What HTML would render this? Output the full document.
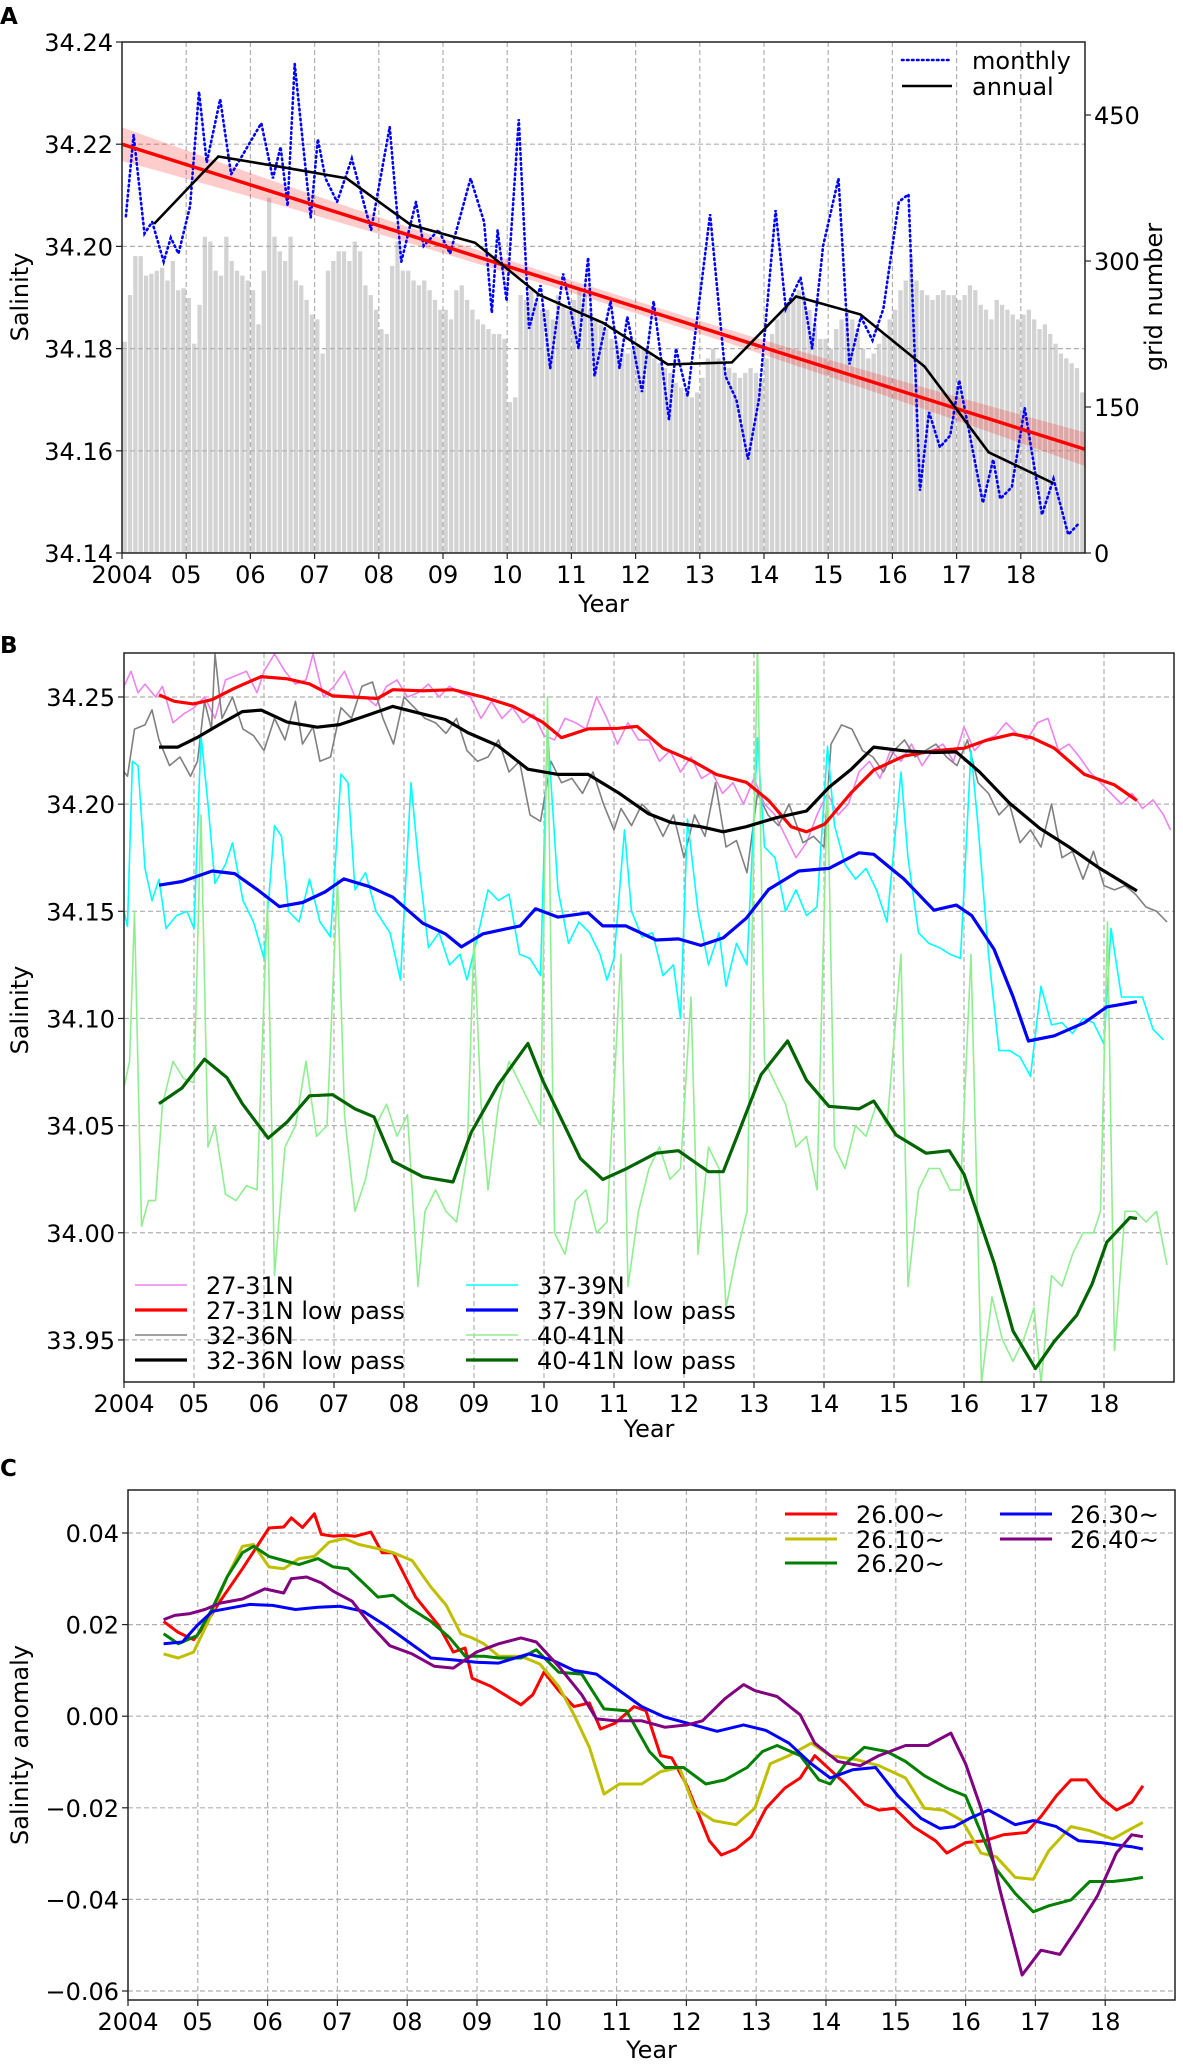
<!DOCTYPE html>
<html><head><meta charset="utf-8"><style>
html,body{margin:0;padding:0;background:#fff;}
svg{display:block;font-family:"DejaVu Sans","Liberation Sans",sans-serif;}
</style></head><body>
<svg id="fig" width="1183" height="2069" viewBox="0 0 1183 2069" xmlns="http://www.w3.org/2000/svg">
<defs>
<clipPath id="clipA"><rect x="122" y="42" width="963" height="511"/></clipPath>
<clipPath id="clipB"><rect x="124" y="653" width="1050" height="729"/></clipPath>
<clipPath id="clipC"><rect x="128" y="1490" width="1047" height="510"/></clipPath>
</defs>
<text x="0" y="24" font-size="23" font-weight="bold">A</text>
<text x="0" y="653" font-size="23" font-weight="bold">B</text>
<text x="0" y="1476" font-size="23" font-weight="bold">C</text>
<g id="gA"></g>
<g id="gB"></g>
<g id="gC"></g>
</svg>
<script>
// ---------- Panel A data ----------
const gridYears = [2004,2005,2006,2007,2008,2009,2010,2011,2012,2013,2014,2015,2016,2017,2018];
const yearLabels = ["2004","05","06","07","08","09","10","11","12","13","14","15","16","17","18"];
const aSalTicks = [34.14,34.16,34.18,34.20,34.22,34.24];
const aSalLabels = ["34.14","34.16","34.18","34.20","34.22","34.24"];
const aGridTicks = [0,150,300,450];
const gridCount = [
217,265,305,305,285,287,290,293,280,300,270,272,
262,215,255,325,320,290,285,325,300,290,285,280,
270,235,290,365,325,310,300,325,280,275,260,245,
240,205,290,300,310,310,300,320,310,275,265,250,
230,225,295,320,290,290,280,275,280,270,260,250,
250,240,270,275,260,250,240,235,230,225,225,220,
155,160,265,260,270,260,250,250,240,265,255,250,
260,270,265,250,240,235,230,220,215,210,205,210,
215,210,205,200,195,190,185,175,170,165,160,165,
180,200,210,200,195,190,185,180,185,190,185,180,
200,225,240,250,255,265,270,265,250,235,220,220,
210,230,240,250,240,230,210,200,205,215,225,240,
250,270,280,305,280,270,265,260,265,270,265,265,
260,265,275,270,255,250,240,260,255,250,245,240,
245,250,240,230,235,225,215,205,200,195,190,165];
const monthlyT = [2004.06,2004.18,2004.35,2004.47,2004.65,2004.76,2004.88,2005.06,2005.20,2005.32,2005.53,2005.70,2005.88,2006.17,2006.35,2006.47,2006.58,2006.69,2006.94,2007.05,2007.17,2007.35,2007.58,2007.88,2008.17,2008.35,2008.58,2008.70,2008.93,2009.11,2009.43,2009.64,2009.76,2009.85,2009.99,2010.18,2010.34,2010.52,2010.67,2010.87,2011.11,2011.26,2011.36,2011.61,2011.75,2011.87,2012.10,2012.28,2012.52,2012.63,2012.81,2012.90,2013.16,2013.40,2013.57,2013.75,2013.92,2014.18,2014.34,2014.57,2014.75,2014.92,2015.16,2015.33,2015.51,2015.69,2015.86,2016.10,2016.25,2016.43,2016.57,2016.74,2016.90,2017.04,2017.41,2017.57,2017.68,2017.86,2018.06,2018.33,2018.51,2018.74,2018.92];
const monthlyS = [34.2059,34.2218,34.2025,34.2048,34.1970,34.2017,34.1986,34.2079,34.2303,34.2164,34.2288,34.2141,34.2179,34.2241,34.2133,34.2195,34.2079,34.2357,34.2056,34.2210,34.2133,34.2087,34.2172,34.2032,34.2234,34.1970,34.2087,34.2001,34.2032,34.1986,34.2133,34.2048,34.1870,34.2032,34.1893,34.2249,34.1839,34.1924,34.1761,34.1947,34.1800,34.1978,34.1746,34.1893,34.1761,34.1862,34.1715,34.1893,34.1661,34.1800,34.1707,34.1800,34.2063,34.1746,34.1700,34.1583,34.1700,34.2071,34.1878,34.1939,34.1800,34.2001,34.2133,34.1769,34.1862,34.1816,34.1878,34.2087,34.2102,34.1522,34.1676,34.1607,34.1630,34.1738,34.1498,34.1583,34.1506,34.1529,34.1684,34.1475,34.1545,34.1436,34.1460];
const annualT = [2004.5,2005.5,2006.5,2007.5,2008.5,2009.5,2010.5,2011.5,2012.5,2013.5,2014.5,2015.5,2016.5,2017.5,2018.5];
const annualS = [34.2044,34.2176,34.2155,34.2133,34.2042,34.2007,34.1905,34.1850,34.1769,34.1773,34.1902,34.1867,34.1765,34.1597,34.1537];
const trendStart = 34.2200, trendEnd = 34.1603;
const bandEdge = 0.0033, bandMid = 0.0012;

// ---------- Panel B data ----------
const bSalTicks = [33.95,34.00,34.05,34.10,34.15,34.20,34.25];
const bSalLabels = ["33.95","34.00","34.05","34.10","34.15","34.20","34.25"];
const pinkT = [2004.0,2004.1,2004.2,2004.3,2004.45,2004.55,2004.7,2004.85,2005.0,2005.15,2005.3,2005.45,2005.6,2005.75,2005.9,2006.0,2006.15,2006.3,2006.45,2006.6,2006.7,2006.85,2007.0,2007.15,2007.3,2007.45,2007.6,2007.75,2007.9,2008.05,2008.2,2008.35,2008.5,2008.65,2008.8,2008.95,2009.1,2009.25,2009.4,2009.55,2009.7,2009.85,2010.0,2010.15,2010.3,2010.45,2010.6,2010.75,2010.9,2011.05,2011.2,2011.35,2011.5,2011.65,2011.8,2011.95,2012.1,2012.25,2012.4,2012.55,2012.7,2012.85,2013.0,2013.15,2013.3,2013.45,2013.6,2013.75,2013.9,2014.05,2014.2,2014.35,2014.5,2014.65,2014.8,2014.95,2015.1,2015.25,2015.4,2015.55,2015.7,2015.85,2016.0,2016.15,2016.3,2016.45,2016.6,2016.75,2016.9,2017.05,2017.2,2017.35,2017.5,2017.65,2017.8,2017.95,2018.1,2018.25,2018.4,2018.55,2018.7,2018.85,2018.95];
const pinkS = [34.255,34.262,34.252,34.256,34.250,34.255,34.238,34.242,34.245,34.250,34.240,34.258,34.260,34.262,34.252,34.262,34.270,34.262,34.256,34.258,34.270,34.250,34.255,34.262,34.250,34.250,34.246,34.255,34.258,34.250,34.252,34.256,34.250,34.255,34.252,34.250,34.240,34.248,34.240,34.245,34.238,34.242,34.232,34.230,34.240,34.238,34.235,34.250,34.240,34.228,34.238,34.230,34.230,34.220,34.225,34.215,34.222,34.212,34.215,34.205,34.210,34.200,34.212,34.200,34.195,34.185,34.175,34.182,34.195,34.205,34.195,34.200,34.215,34.220,34.212,34.225,34.220,34.228,34.218,34.225,34.228,34.220,34.236,34.225,34.230,34.232,34.238,34.233,34.230,34.238,34.240,34.225,34.228,34.222,34.215,34.210,34.205,34.200,34.205,34.198,34.202,34.195,34.188];
const redLPT = [2004.50,2004.72,2004.99,2005.26,2005.58,2005.96,2006.33,2006.65,2006.98,2007.35,2007.62,2007.84,2008.27,2008.70,2009.13,2009.56,2009.98,2010.25,2010.63,2011.06,2011.33,2011.70,2012.13,2012.46,2012.89,2013.21,2013.53,2013.75,2014.01,2014.39,2014.71,2015.14,2015.57,2016.00,2016.32,2016.70,2016.97,2017.29,2017.72,2018.15,2018.47];
const redLPS = [34.2510,34.2480,34.2468,34.2488,34.2541,34.2595,34.2585,34.2561,34.2505,34.2498,34.2493,34.2534,34.2529,34.2534,34.2500,34.2456,34.2383,34.2310,34.2351,34.2354,34.2363,34.2261,34.2200,34.2139,34.2102,34.2017,34.1895,34.1871,34.1907,34.2054,34.2159,34.2224,34.2249,34.2261,34.2298,34.2327,34.2310,34.2261,34.2139,34.2090,34.2017];
const grayT = [2004.0,2004.05,2004.15,2004.3,2004.4,2004.5,2004.65,2004.8,2004.95,2005.05,2005.15,2005.25,2005.3,2005.4,2005.55,2005.7,2005.85,2006.0,2006.15,2006.3,2006.45,2006.55,2006.7,2006.8,2006.95,2007.1,2007.25,2007.4,2007.55,2007.7,2007.85,2008.0,2008.15,2008.3,2008.45,2008.6,2008.75,2008.9,2009.05,2009.2,2009.35,2009.5,2009.65,2009.8,2009.95,2010.1,2010.25,2010.4,2010.55,2010.7,2010.85,2011.0,2011.1,2011.25,2011.4,2011.55,2011.7,2011.85,2012.0,2012.15,2012.3,2012.45,2012.6,2012.75,2012.9,2013.05,2013.2,2013.35,2013.5,2013.7,2013.85,2014.0,2014.1,2014.25,2014.4,2014.55,2014.7,2014.85,2015.0,2015.15,2015.3,2015.45,2015.6,2015.75,2015.9,2016.05,2016.2,2016.35,2016.5,2016.65,2016.8,2016.95,2017.1,2017.25,2017.4,2017.55,2017.7,2017.85,2018.0,2018.15,2018.3,2018.45,2018.6,2018.75,2018.9];
const grayS = [34.215,34.213,34.235,34.237,34.244,34.230,34.218,34.222,34.213,34.220,34.248,34.235,34.270,34.240,34.250,34.235,34.232,34.225,34.240,34.230,34.248,34.228,34.236,34.220,34.222,34.245,34.240,34.255,34.257,34.240,34.228,34.250,34.245,34.240,34.238,34.233,34.240,34.225,34.220,34.222,34.230,34.215,34.220,34.195,34.192,34.220,34.210,34.212,34.205,34.215,34.200,34.188,34.198,34.190,34.200,34.195,34.185,34.195,34.175,34.195,34.185,34.210,34.180,34.183,34.168,34.205,34.195,34.190,34.200,34.182,34.185,34.180,34.228,34.237,34.235,34.225,34.222,34.215,34.225,34.230,34.222,34.225,34.228,34.222,34.218,34.230,34.210,34.205,34.195,34.200,34.182,34.188,34.180,34.200,34.175,34.178,34.165,34.178,34.162,34.160,34.162,34.158,34.152,34.150,34.145];
const blackLPT = [2004.50,2004.77,2005.04,2005.36,2005.69,2005.96,2006.33,2006.76,2007.08,2007.41,2007.84,2008.27,2008.59,2008.91,2009.34,2009.77,2010.20,2010.63,2011.06,2011.49,2011.81,2012.24,2012.56,2012.89,2013.32,2013.75,2014.07,2014.39,2014.71,2015.14,2015.57,2015.89,2016.22,2016.65,2017.08,2017.51,2017.94,2018.47];
const blackLPS = [34.2266,34.2266,34.2310,34.2371,34.2432,34.2439,34.2383,34.2359,34.2371,34.2407,34.2456,34.2420,34.2395,34.2334,34.2273,34.2163,34.2139,34.2139,34.2054,34.1956,34.1915,34.1895,34.1871,34.1895,34.1937,34.1968,34.2078,34.2163,34.2266,34.2249,34.2241,34.2244,34.2151,34.2005,34.1888,34.1798,34.1700,34.1595];
const cyanT = [2004.0,2004.05,2004.12,2004.2,2004.3,2004.4,2004.5,2004.6,2004.75,2004.9,2005.0,2005.1,2005.2,2005.3,2005.45,2005.55,2005.7,2005.85,2006.0,2006.15,2006.25,2006.35,2006.5,2006.65,2006.8,2006.95,2007.1,2007.2,2007.3,2007.45,2007.6,2007.8,2007.95,2008.1,2008.2,2008.35,2008.5,2008.65,2008.8,2008.9,2009.05,2009.2,2009.35,2009.5,2009.65,2009.8,2009.95,2010.05,2010.2,2010.35,2010.5,2010.65,2010.8,2010.9,2011.0,2011.15,2011.25,2011.4,2011.55,2011.7,2011.85,2011.95,2012.05,2012.2,2012.35,2012.5,2012.6,2012.75,2012.9,2013.05,2013.15,2013.3,2013.45,2013.6,2013.75,2013.9,2014.05,2014.15,2014.3,2014.45,2014.6,2014.75,2014.9,2015.1,2015.2,2015.35,2015.5,2015.65,2015.8,2015.95,2016.1,2016.2,2016.35,2016.5,2016.65,2016.8,2016.95,2017.1,2017.25,2017.4,2017.55,2017.7,2017.85,2018.0,2018.1,2018.25,2018.4,2018.55,2018.7,2018.85];
const cyanS = [34.150,34.143,34.220,34.218,34.170,34.155,34.165,34.142,34.148,34.150,34.142,34.232,34.200,34.163,34.172,34.182,34.155,34.145,34.128,34.190,34.185,34.150,34.145,34.165,34.145,34.138,34.214,34.210,34.160,34.168,34.150,34.140,34.118,34.210,34.175,34.133,34.140,34.125,34.130,34.118,34.138,34.160,34.155,34.158,34.130,34.128,34.120,34.235,34.160,34.135,34.145,34.140,34.130,34.118,34.128,34.188,34.150,34.138,34.140,34.120,34.125,34.100,34.193,34.150,34.125,34.140,34.115,34.135,34.125,34.231,34.180,34.175,34.150,34.160,34.148,34.152,34.227,34.190,34.172,34.165,34.170,34.160,34.145,34.215,34.175,34.140,34.135,34.133,34.130,34.128,34.225,34.190,34.130,34.085,34.085,34.082,34.073,34.115,34.097,34.098,34.093,34.100,34.098,34.088,34.142,34.110,34.110,34.110,34.095,34.090];
const blueLPT = [2004.50,2004.83,2005.26,2005.58,2005.90,2006.22,2006.55,2006.87,2007.14,2007.51,2007.84,2008.27,2008.59,2008.82,2009.13,2009.66,2009.88,2010.20,2010.63,2010.84,2011.17,2011.60,2011.92,2012.24,2012.56,2012.89,2013.21,2013.64,2014.07,2014.50,2014.71,2015.14,2015.57,2015.89,2016.11,2016.43,2016.70,2016.92,2017.29,2017.72,2018.04,2018.47];
const blueLPS = [34.1622,34.1639,34.1688,34.1676,34.1602,34.1522,34.1541,34.1590,34.1651,34.1615,34.1566,34.1444,34.1395,34.1334,34.1395,34.1432,34.1512,34.1473,34.1493,34.1432,34.1432,34.1366,34.1371,34.1341,34.1376,34.1468,34.1602,34.1688,34.1700,34.1773,34.1766,34.1651,34.1505,34.1529,34.1480,34.1322,34.1102,34.0895,34.0919,34.0980,34.1054,34.1078];
const lgreenT = [2004.0,2004.08,2004.15,2004.25,2004.35,2004.45,2004.55,2004.7,2004.85,2005.0,2005.1,2005.2,2005.3,2005.45,2005.6,2005.75,2005.9,2006.05,2006.15,2006.3,2006.45,2006.6,2006.75,2006.9,2007.05,2007.15,2007.3,2007.45,2007.6,2007.75,2007.9,2008.05,2008.2,2008.3,2008.45,2008.6,2008.75,2008.9,2009.0,2009.1,2009.2,2009.35,2009.5,2009.65,2009.8,2009.95,2010.05,2010.15,2010.3,2010.45,2010.6,2010.75,2010.9,2011.1,2011.2,2011.35,2011.5,2011.65,2011.8,2011.95,2012.1,2012.2,2012.35,2012.5,2012.6,2012.75,2012.9,2013.05,2013.15,2013.3,2013.45,2013.6,2013.75,2013.9,2014.05,2014.15,2014.3,2014.45,2014.6,2014.75,2014.9,2015.1,2015.2,2015.35,2015.5,2015.65,2015.8,2015.95,2016.1,2016.25,2016.4,2016.55,2016.7,2016.85,2017.0,2017.1,2017.25,2017.4,2017.55,2017.7,2017.85,2017.95,2018.05,2018.15,2018.3,2018.45,2018.6,2018.75,2018.9];
const lgreenS = [34.068,34.080,34.150,34.003,34.015,34.015,34.060,34.080,34.072,34.070,34.195,34.040,34.050,34.018,34.015,34.022,34.020,34.155,33.980,34.040,34.050,34.080,34.045,34.050,34.165,34.055,34.010,34.025,34.050,34.060,34.045,34.055,33.975,34.010,34.020,34.010,34.005,34.035,34.138,34.060,34.020,34.060,34.080,34.070,34.060,34.050,34.250,34.000,33.990,34.015,34.020,34.000,34.005,34.130,33.975,34.010,34.030,34.040,34.025,34.030,34.110,33.990,34.040,34.030,33.965,33.990,34.010,34.275,34.080,34.070,34.060,34.040,34.045,34.020,34.210,34.040,34.030,34.050,34.045,34.060,34.050,34.130,33.975,34.020,34.030,34.030,34.020,34.020,34.130,33.930,33.970,33.950,33.940,33.950,33.965,33.930,33.980,33.975,33.990,34.000,34.000,34.010,34.145,33.945,34.010,34.010,34.005,34.010,33.985];
const dgreenLPT = [2004.50,2004.83,2005.15,2005.47,2005.69,2006.06,2006.33,2006.65,2006.98,2007.30,2007.57,2007.84,2008.27,2008.70,2008.96,2009.34,2009.77,2009.98,2010.52,2010.84,2011.17,2011.60,2011.92,2012.35,2012.56,2012.78,2013.10,2013.48,2013.75,2014.07,2014.50,2014.71,2015.03,2015.46,2015.79,2016.00,2016.43,2016.70,2017.02,2017.29,2017.61,2017.83,2018.04,2018.37,2018.47];
const dgreenLPS = [34.0602,34.0676,34.0810,34.0724,34.0602,34.0441,34.0517,34.0639,34.0644,34.0578,34.0541,34.0334,34.0261,34.0237,34.0468,34.0688,34.0883,34.0712,34.0346,34.0249,34.0298,34.0371,34.0383,34.0285,34.0285,34.0468,34.0737,34.0895,34.0712,34.0590,34.0578,34.0615,34.0456,34.0371,34.0383,34.0273,33.9859,33.9542,33.9366,33.9493,33.9615,33.9761,33.9956,34.0071,34.0066];

// ---------- Panel C data (years since 2004) ----------
const cTicks = [-0.06,-0.04,-0.02,0.00,0.02,0.04];
const cLabels = ["\u22120.06","\u22120.04","\u22120.02","0.00","0.02","0.04"];
const c2600T = [0.51,0.72,0.94,1.10,1.32,1.64,2.02,2.23,2.34,2.50,2.67,2.77,2.94,3.10,3.26,3.48,3.64,3.80,4.12,4.45,4.66,4.83,4.93,5.20,5.63,5.80,5.96,6.17,6.39,6.61,6.77,6.98,7.25,7.42,7.63,7.79,8.01,8.33,8.50,8.71,8.93,9.14,9.41,9.63,9.84,10.06,10.28,10.55,10.76,10.98,11.25,11.57,11.73,12.00,12.27,12.54,12.87,13.08,13.30,13.51,13.73,13.95,14.16,14.38,14.54];
const c2600V = [.0207,.0183,.0167,.0198,.0251,.0322,.0411,.0413,.0433,.0412,.0442,.0397,.0393,.0395,.0393,.0402,.0357,.0357,.0260,.0198,.0140,.0149,.0083,.0065,.0025,.0047,.0096,.0056,.0021,.0029,-.0028,-.0015,.0021,.0012,-.0086,-.0091,-.0152,-.0272,-.0303,-.0290,-.0263,-.0201,-.0157,-.0135,-.0086,-.0117,-.0148,-.0192,-.0205,-.0201,-.0241,-.0272,-.0299,-.0276,-.0272,-.0259,-.0254,-.0219,-.0174,-.0139,-.0139,-.0179,-.0205,-.0188,-.0152];
const c2610T = [0.51,0.72,0.94,1.15,1.42,1.64,1.80,2.02,2.23,2.45,2.67,2.88,3.10,3.31,3.58,3.80,4.07,4.34,4.56,4.77,4.93,5.10,5.31,5.63,5.90,6.17,6.39,6.61,6.82,7.04,7.36,7.63,7.90,8.12,8.39,8.71,8.98,9.20,9.47,9.79,10.06,10.44,10.76,11.14,11.41,11.68,11.95,12.22,12.44,12.71,12.97,13.19,13.51,13.78,14.11,14.38,14.54];
const c2610V = [.0136,.0127,.0140,.0207,.0304,.0371,.0375,.0326,.0322,.0344,.0349,.0380,.0388,.0375,.0366,.0357,.0340,.0282,.0242,.0180,.0171,.0158,.0131,.0131,.0114,.0065,.0003,-.0068,-.0170,-.0148,-.0148,-.0121,-.0112,-.0201,-.0228,-.0237,-.0201,-.0104,-.0086,-.0059,-.0086,-.0095,-.0108,-.0135,-.0201,-.0205,-.0228,-.0299,-.0307,-.0352,-.0356,-.0294,-.0241,-.0250,-.0268,-.0245,-.0232];
const c2620T = [0.51,0.72,0.99,1.20,1.42,1.64,1.80,2.02,2.23,2.45,2.72,2.94,3.15,3.37,3.58,3.80,4.02,4.34,4.61,4.83,5.10,5.31,5.63,5.85,6.17,6.50,6.82,7.14,7.47,7.69,7.96,8.28,8.55,8.87,9.09,9.30,9.63,9.90,10.06,10.28,10.55,10.87,11.14,11.41,11.73,12.00,12.22,12.44,12.71,12.97,13.19,13.51,13.78,14.11,14.38,14.54];
const c2620V = [.0180,.0158,.0176,.0233,.0304,.0357,.0371,.0349,.0340,.0331,.0344,.0326,.0322,.0291,.0260,.0264,.0238,.0207,.0171,.0131,.0131,.0127,.0127,.0145,.0096,.0092,.0016,.0012,-.0077,-.0112,-.0112,-.0148,-.0139,-.0112,-.0077,-.0064,-.0086,-.0139,-.0148,-.0104,-.0068,-.0077,-.0099,-.0130,-.0157,-.0174,-.0254,-.0334,-.0387,-.0427,-.0414,-.0401,-.0361,-.0361,-.0356,-.0352];
const c2630T = [0.51,0.78,0.99,1.21,1.53,1.75,2.07,2.40,2.72,3.04,3.37,3.69,4.02,4.34,4.66,4.99,5.31,5.74,6.07,6.39,6.71,7.04,7.36,7.69,8.01,8.44,8.82,9.14,9.47,9.79,10.06,10.38,10.71,11.03,11.36,11.63,11.84,12.06,12.33,12.71,12.97,13.30,13.62,13.95,14.16,14.38,14.54];
const c2630V = [.0158,.0162,.0198,.0229,.0238,.0244,.0242,.0233,.0238,.0240,.0229,.0198,.0162,.0127,.0123,.0118,.0116,.0136,.0123,.0100,.0092,.0056,.0021,-.0002,-.0015,-.0033,-.0019,-.0031,-.0059,-.0104,-.0135,-.0117,-.0112,-.0174,-.0223,-.0245,-.0241,-.0223,-.0205,-.0237,-.0228,-.0241,-.0272,-.0276,-.0281,-.0285,-.0290];
const c2640T = [0.51,0.67,0.89,1.10,1.32,1.64,1.96,2.23,2.34,2.56,2.77,2.94,3.21,3.48,3.75,4.07,4.39,4.66,4.99,5.31,5.63,5.85,6.17,6.50,6.71,6.98,7.36,7.69,8.01,8.23,8.55,8.82,8.98,9.30,9.63,9.84,10.17,10.49,10.76,11.14,11.46,11.79,12.00,12.22,12.49,12.81,13.08,13.35,13.62,13.89,14.16,14.38,14.54];
const c2640V = [.0211,.0220,.0224,.0233,.0247,.0256,.0278,.0269,.0300,.0304,.0291,.0273,.0251,.0198,.0154,.0136,.0109,.0105,.0140,.0158,.0171,.0162,.0109,.0047,-.0006,-.0010,-.0010,-.0024,-.0019,-.0010,.0038,.0069,.0056,.0043,.0003,-.0059,-.0099,-.0108,-.0086,-.0064,-.0064,-.0037,-.0104,-.0201,-.0378,-.0565,-.0511,-.0520,-.0458,-.0392,-.0299,-.0259,-.0263];

const NS = 'http://www.w3.org/2000/svg';
function mk(tag, attrs, parent){
  const e = document.createElementNS(NS, tag);
  for (const k in attrs) e.setAttribute(k, attrs[k]);
  parent.appendChild(e);
  return e;
}
function txt(s, x, y, size, anchor, parent){
  const e = mk('text', {x:x, y:y, 'font-size':size, 'text-anchor':anchor, fill:'#000'}, parent);
  e.textContent = s;
  return e;
}
function pathD(ts, vs, base, fx, fy){
  const n = Math.min(ts.length, vs.length);
  let d = '';
  for (let i=0;i<n;i++) d += (i?'L':'M') + fx(base+ts[i]).toFixed(1) + ',' + fy(vs[i]).toFixed(1);
  return d;
}

// ================= Panel A =================
(function(){
  const g = document.getElementById('gA');
  const L=122, R=1085, T=42, B=553;
  const xA = t => L + (t-2004)*64.2;
  const yA = s => B - (s-34.14)*5110;
  const yR = n => B - n*0.9733;
  const bars = mk('g', {'clip-path':'url(#clipA)'}, g);
  
  
  const bw = 64.2/12*0.8;
  for (let i=0;i<gridCount.length;i++){
    const t = 2004 + (i+0.5)/12;
    const r = mk('rect', {x:(xA(t)-bw/2).toFixed(2), y:yR(gridCount[i]).toFixed(1), width:bw.toFixed(2), height:(B-yR(gridCount[i])).toFixed(1), fill:'#d3d3d3'}, bars);
    
    
  }
  const grid = mk('g', {stroke:'#b0b0b0', 'stroke-width':1.2, 'stroke-dasharray':'5,3'}, g);
  
  
  gridYears.forEach(y=>{ if(y>2004) mk('line',{x1:xA(y),x2:xA(y),y1:T,y2:B},grid); });
  aSalTicks.forEach(s=>{ if(s>34.141 && s<34.239) mk('line',{x1:L,x2:R,y1:yA(s),y2:yA(s)},grid); });
  // trend band
  let up='', dn='';
  const steps = 30;
  for (let i=0;i<=steps;i++){
    const t = 2004 + 15*i/steps;
    const f = (t-2011.5)/7.5;
    const c = trendStart + (trendEnd-trendStart)*(t-2004)/15;
    const h = bandMid + (bandEdge-bandMid)*f*f;
    up += (i?'L':'M') + xA(t).toFixed(1)+','+yA(c+h).toFixed(1);
    dn = 'L' + xA(t).toFixed(1)+','+yA(c-h).toFixed(1) + dn;
  }
  const band = mk('path', {d:up+dn+'Z', fill:'#ff0000', 'fill-opacity':0.2, stroke:'none'}, g);
  
  
  const mon = mk('path', {d:pathD(monthlyT, monthlyS, 0, xA, yA), fill:'none', stroke:'#0000ff', 'stroke-width':2.6, 'stroke-dasharray':'1.5,3.5', 'stroke-linecap':'round', 'clip-path':'url(#clipA)'}, g);
  
  
  const tr = mk('line', {x1:xA(2004), y1:yA(trendStart), x2:xA(2019), y2:yA(trendEnd), stroke:'#ff0000', 'stroke-width':3.5}, g);
  
  
  const ann = mk('path', {d:pathD(annualT, annualS, 0, xA, yA), fill:'none', stroke:'#000', 'stroke-width':2.6}, g);
  
  
  const fr = mk('rect', {x:L, y:T, width:R-L, height:B-T, fill:'none', stroke:'#222', 'stroke-width':1.5}, g);
  
  
  const ax = mk('g', {}, g);
  
  
  gridYears.forEach((y,i)=>{
    mk('line',{x1:xA(y),x2:xA(y),y1:B,y2:B+6,stroke:'#222','stroke-width':1.2},ax);
    const t = txt(yearLabels[i], xA(y), B+30, 24, 'middle', ax);
    
  });
  aSalTicks.forEach((s,i)=>{
    mk('line',{x1:L-6,x2:L,y1:yA(s),y2:yA(s),stroke:'#222','stroke-width':1.2},ax);
    const t = txt(aSalLabels[i], L-9, yA(s)+9, 24, 'end', ax);
    
  });
  aGridTicks.forEach(n=>{
    mk('line',{x1:R,x2:R+6,y1:yR(n),y2:yR(n),stroke:'#222','stroke-width':1.2},ax);
    const t = txt(String(n), R+9, yR(n)+9, 24, 'start', ax);
    
  });
  const xl = txt('Year', (L+R)/2, 612, 24, 'middle', g);
  
  const yl = txt('Salinity', 0, 0, 24, 'middle', g);
  yl.setAttribute('transform', 'translate(28,297) rotate(-90)');
  
  const yr = txt('grid number', 0, 0, 24, 'middle', g);
  yr.setAttribute('transform', 'translate(1162,297) rotate(-90)');
  
  const lg = mk('g', {}, g);
  
  
  mk('line',{x1:902,x2:952,y1:60,y2:60,stroke:'#0000ff','stroke-width':2.6,'stroke-dasharray':'1.5,3.5','stroke-linecap':'round'},lg);
  mk('line',{x1:902,x2:952,y1:86,y2:86,stroke:'#000','stroke-width':2.6},lg);
  const l1 = txt('monthly', 972, 69, 24, 'start', lg);
  
  const l2 = txt('annual', 972, 95, 24, 'start', lg);
  
})();

// ================= Panel B =================
(function(){
  const g = document.getElementById('gB');
  const L=124, R=1174, T=653, B=1382;
  const xB = t => L + (t-2004)*70;
  const yB = s => 697 - (s-34.25)*2143;
  const grid = mk('g', {stroke:'#b0b0b0', 'stroke-width':1.2, 'stroke-dasharray':'5,3'}, g);
  
  
  gridYears.forEach(y=>{ if(y>2004) mk('line',{x1:xB(y),x2:xB(y),y1:T,y2:B},grid); });
  bSalTicks.forEach(s=>mk('line',{x1:L,x2:R,y1:yB(s),y2:yB(s)},grid));
  const lines = mk('g', {'clip-path':'url(#clipB)', fill:'none', 'stroke-linejoin':'round'}, g);
  
  
  const series = [
    [pinkT,pinkS,'#ee82ee',1.6,'series-27-31n'],
    [grayT,grayS,'#808080',1.6,'series-32-36n'],
    [cyanT,cyanS,'#00ffff',1.6,'series-37-39n'],
    [lgreenT,lgreenS,'#90ee90',1.6,'series-40-41n'],
    [redLPT,redLPS,'#ff0000',3.2,'series-27-31n-low-pass'],
    [blackLPT,blackLPS,'#000000',3.2,'series-32-36n-low-pass'],
    [blueLPT,blueLPS,'#0000ff',3.2,'series-37-39n-low-pass'],
    [dgreenLPT,dgreenLPS,'#006400',3.2,'series-40-41n-low-pass']
  ];
  series.forEach(sr=>{
    const p = mk('path', {d:pathD(sr[0], sr[1], 0, xB, yB), stroke:sr[2], 'stroke-width':sr[3]}, lines);
    
    
  });
  const fr = mk('rect', {x:L, y:T, width:R-L, height:B-T, fill:'none', stroke:'#222', 'stroke-width':1.5}, g);
  
  
  const ax = mk('g', {}, g);
  
  
  gridYears.forEach((y,i)=>{
    mk('line',{x1:xB(y),x2:xB(y),y1:B,y2:B+6,stroke:'#222','stroke-width':1.2},ax);
    const t = txt(yearLabels[i], xB(y), B+30, 24, 'middle', ax);
    
  });
  bSalTicks.forEach((s,i)=>{
    mk('line',{x1:L-6,x2:L,y1:yB(s),y2:yB(s),stroke:'#222','stroke-width':1.2},ax);
    const t = txt(bSalLabels[i], L-9, yB(s)+9, 24, 'end', ax);
    
  });
  const xl = txt('Year', (L+R)/2, 1437, 24, 'middle', g);
  
  const yl = txt('Salinity', 0, 0, 24, 'middle', g);
  yl.setAttribute('transform', 'translate(28,1010) rotate(-90)');
  
  const lg = mk('g', {}, g);
  
  
  const ent = [
    ['27-31N','#ee82ee',1.6,135,206,1285],
    ['27-31N low pass','#ff0000',3.2,135,206,1310],
    ['32-36N','#808080',1.6,135,206,1335],
    ['32-36N low pass','#000000',3.2,135,206,1360],
    ['37-39N','#00ffff',1.6,466,537,1285],
    ['37-39N low pass','#0000ff',3.2,466,537,1310],
    ['40-41N','#90ee90',1.6,466,537,1335],
    ['40-41N low pass','#006400',3.2,466,537,1360]
  ];
  ent.forEach(e=>{
    mk('line',{x1:e[3],x2:e[3]+52,y1:e[5],y2:e[5],stroke:e[1],'stroke-width':e[2]},lg);
    const t = txt(e[0], e[4], e[5]+9, 24, 'start', lg);
    
  });
})();

// ================= Panel C =================
(function(){
  const g = document.getElementById('gC');
  const L=128, R=1175, T=1490, B=2000;
  const xC = t => L + (t-2004)*69.8;
  const yC = v => 1533 - (v-0.04)*4580;
  const grid = mk('g', {stroke:'#b0b0b0', 'stroke-width':1.2, 'stroke-dasharray':'5,3'}, g);
  
  
  gridYears.forEach(y=>{ if(y>2004) mk('line',{x1:xC(y),x2:xC(y),y1:T,y2:B},grid); });
  cTicks.forEach(v=>mk('line',{x1:L,x2:R,y1:yC(v),y2:yC(v)},grid));
  const lines = mk('g', {'clip-path':'url(#clipC)', fill:'none', 'stroke-linejoin':'round', 'stroke-width':3}, g);
  
  
  const series = [
    [c2600T,c2600V,'#ff0000','series-26-00'],
    [c2610T,c2610V,'#bfbf00','series-26-10'],
    [c2620T,c2620V,'#008000','series-26-20'],
    [c2630T,c2630V,'#0000ff','series-26-30'],
    [c2640T,c2640V,'#800080','series-26-40']
  ];
  series.forEach(sr=>{
    const p = mk('path', {d:pathD(sr[0], sr[1], 2004, xC, yC), stroke:sr[2]}, lines);
    
    
  });
  const fr = mk('rect', {x:L, y:T, width:R-L, height:B-T, fill:'none', stroke:'#222', 'stroke-width':1.5}, g);
  
  
  const ax = mk('g', {}, g);
  
  
  gridYears.forEach((y,i)=>{
    mk('line',{x1:xC(y),x2:xC(y),y1:B,y2:B+6,stroke:'#222','stroke-width':1.2},ax);
    const t = txt(yearLabels[i], xC(y), B+30, 24, 'middle', ax);
    
  });
  cTicks.forEach((v,i)=>{
    mk('line',{x1:L-6,x2:L,y1:yC(v),y2:yC(v),stroke:'#222','stroke-width':1.2},ax);
    const t = txt(cLabels[i], L-9, yC(v)+9, 24, 'end', ax);
    
  });
  const xl = txt('Year', (L+R)/2, 2058, 24, 'middle', g);
  
  const yl = txt('Salinity anomaly', 0, 0, 24, 'middle', g);
  yl.setAttribute('transform', 'translate(28,1745) rotate(-90)');
  
  const lg = mk('g', {}, g);
  
  
  const ent = [
    ['26.00~','#ff0000',785,856,1514],
    ['26.10~','#bfbf00',785,856,1539],
    ['26.20~','#008000',785,856,1563],
    ['26.30~','#0000ff',1000,1070,1514],
    ['26.40~','#800080',1000,1070,1539]
  ];
  ent.forEach(e=>{
    mk('line',{x1:e[2],x2:e[2]+52,y1:e[4],y2:e[4],stroke:e[1],'stroke-width':3},lg);
    const t = txt(e[0], e[3], e[4]+9, 24, 'start', lg);
    
  });
})();
</script>
</body></html>
